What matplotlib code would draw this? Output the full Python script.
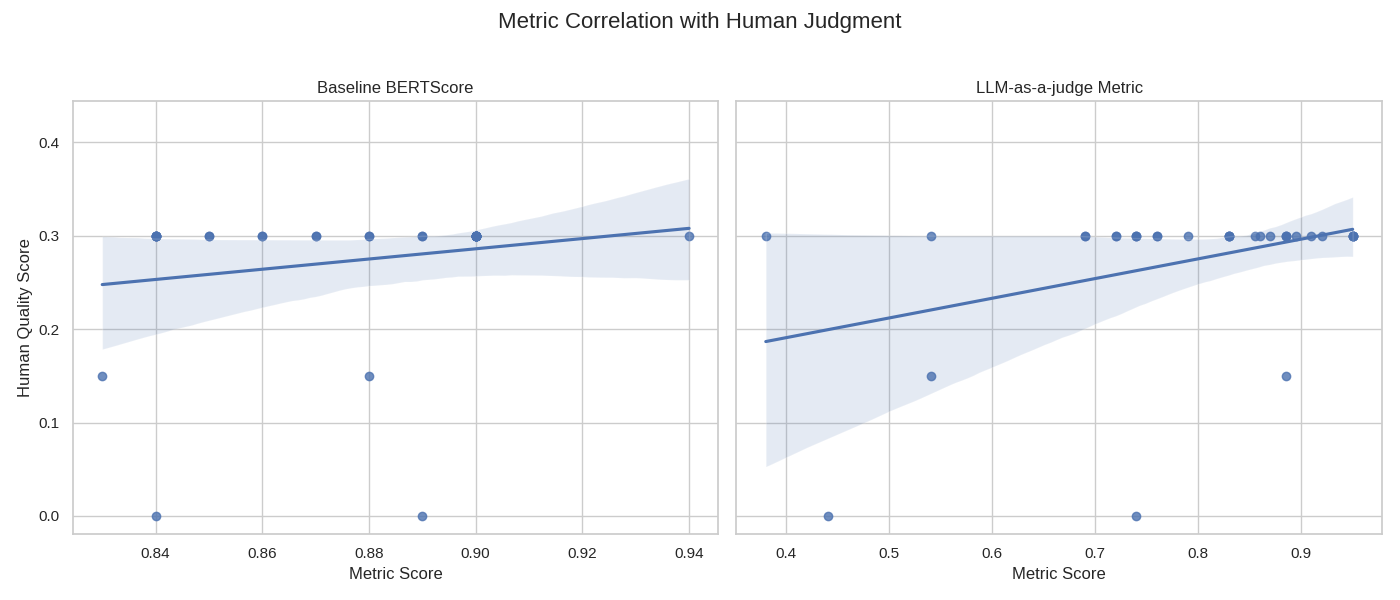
import numpy as np
import pandas as pd
import matplotlib
matplotlib.use("Agg")
import matplotlib.pyplot as plt
import seaborn as sns

# human quality score per item (30 good, 2 partial, 2 bad)
human_high = 0.30
human_mid = 0.15
human_low = 0.0

# BERTScore for each group of items
bert_high = [0.84, 0.84, 0.84, 0.84, 0.84, 0.84, 0.85, 0.85, 0.86, 0.86,
             0.87, 0.87, 0.88, 0.88, 0.89, 0.89, 0.90, 0.90, 0.90, 0.90,
             0.90, 0.90, 0.90, 0.90, 0.90, 0.90, 0.90, 0.90, 0.90, 0.94]
bert_mid = [0.83, 0.88]
bert_low = [0.84, 0.89]

# LLM-as-a-judge score for the same items
llm_high = [0.38, 0.54, 0.69, 0.69, 0.72, 0.72, 0.74, 0.74, 0.74, 0.76,
            0.76, 0.79, 0.83, 0.83, 0.83, 0.83, 0.855, 0.86, 0.87, 0.885,
            0.885, 0.885, 0.895, 0.91, 0.92, 0.95, 0.95, 0.95, 0.95, 0.95]
llm_mid = [0.54, 0.885]
llm_low = [0.44, 0.74]

human = ([human_high] * len(bert_high) + [human_mid] * len(bert_mid)
         + [human_low] * len(bert_low))

df = pd.DataFrame({
    "human": human,
    "bert": bert_high + bert_mid + bert_low,
    "llm": llm_high + llm_mid + llm_low,
})

sns.set_theme(style="whitegrid")
plt.rcParams["font.family"] = ["Liberation Sans", "DejaVu Sans"]

fig, axes = plt.subplots(1, 2, figsize=(14, 6), sharey=True)

sns.regplot(data=df, x="bert", y="human", ax=axes[0], seed=11)
axes[0].set_title("Baseline BERTScore")
axes[0].set_xlabel("Metric Score")
axes[0].set_ylabel("Human Quality Score")

sns.regplot(data=df, x="llm", y="human", ax=axes[1], seed=11)
axes[1].set_title("LLM-as-a-judge Metric")
axes[1].set_xlabel("Metric Score")
axes[1].set_ylabel("")

axes[0].set_ylim(-0.0196, 0.444)

fig.suptitle("Metric Correlation with Human Judgment", fontsize=16)
plt.tight_layout(rect=[0, 0, 1, 0.96])
plt.savefig("out.png", dpi=100)
